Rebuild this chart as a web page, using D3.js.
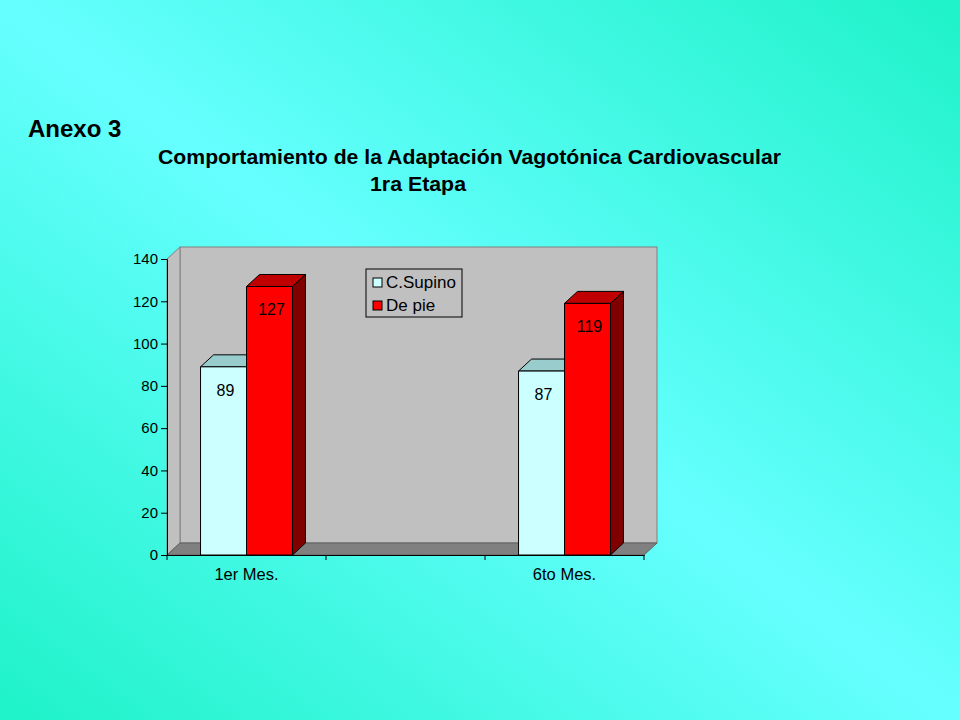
<!DOCTYPE html>
<html><head><meta charset="utf-8">
<script src="https://cdn.jsdelivr.net/npm/d3@7"></script>
<style>html,body{margin:0;padding:0;overflow:hidden}svg{display:block}text{font-family:Arial,"Liberation Sans",sans-serif}</style>
</head><body>
<script>
const categories = ["1er Mes.", "", "6to Mes."];
const seriesNames = ["C.Supino", "De pie"];
const supinoValues = [89, null, 87];
const dePieValues = [127, null, 119];
const yTicks = [0, 20, 40, 60, 80, 100, 120, 140];
const titleText = "Anexo 3";
const subtitleText = "Comportamiento de la Adaptación Vagotónica Cardiovascular";
const stageText = "1ra Etapa";

const W = 960, H = 720;
const svg = d3.select("body").append("svg").attr("width", W).attr("height", H);
const defs = svg.append("defs");
const g0 = defs.append("linearGradient").attr("id", "bg").attr("gradientUnits", "userSpaceOnUse")
  .attr("x1", 134).attr("y1", 821).attr("x2", 826).attr("y2", -101);
g0.append("stop").attr("offset", 0).attr("stop-color", "#1ef2c8");
g0.append("stop").attr("offset", 0.5).attr("stop-color", "#66ffff");
g0.append("stop").attr("offset", 1).attr("stop-color", "#1ef2c8");
svg.append("rect").attr("width", W).attr("height", H).attr("fill", "url(#bg)");

// Titles
svg.append("text").attr("x", 28).attr("y", 137).attr("font-size", 24).attr("font-weight", "bold").text(titleText);
svg.append("text").attr("x", 158).attr("y", 164).attr("font-size", 20).attr("font-weight", "bold")
  .attr("textLength", 623).attr("lengthAdjust", "spacingAndGlyphs").text(subtitleText);
svg.append("text").attr("x", 370).attr("y", 191).attr("font-size", 20).attr("font-weight", "bold")
  .attr("textLength", 96).attr("lengthAdjust", "spacingAndGlyphs").text(stageText);

// Scales
const DX = 13, DY = -12;
const x = d3.scaleBand().domain(categories).range([167, 644]).paddingInner(0).paddingOuter(0);
const xs = d3.scaleBand().domain(seriesNames).range([0, x.bandwidth()]).paddingInner(0).paddingOuter(0.73);
const y = d3.scaleLinear().domain([0, 140]).range([555, 259]);
const x0 = x.range()[0], x1 = x.range()[1];
const yTop = y(140), yBot = y(0);

// Walls
const walls = svg.append("g");
walls.append("rect").attr("x", x0 + DX).attr("y", yTop + DY).attr("width", x1 - x0).attr("height", yBot - yTop)
  .attr("fill", "#c0c0c0").attr("stroke", "#808080").attr("stroke-width", 1);
walls.append("polygon").attr("points", [[x0, yTop], [x0 + DX, yTop + DY], [x0 + DX, yBot + DY], [x0, yBot]].join(" "))
  .attr("fill", "#c0c0c0").attr("stroke", "#808080").attr("stroke-width", 1);
walls.append("polygon").attr("points", [[x0, yBot], [x0 + DX, yBot + DY], [x1 + DX, yBot + DY], [x1, yBot]].join(" "))
  .attr("fill", "#808080").attr("stroke", "#606060").attr("stroke-width", 1);

// Bars
const colors = {
  "C.Supino": { front: "#ccffff", top: "#99cccc", side: "#669999" },
  "De pie": { front: "#ff0000", top: "#c00000", side: "#800000" }
};
const valuesBySeries = { "C.Supino": supinoValues, "De pie": dePieValues };
const bars = svg.append("g");
categories.forEach((c, i) => {
  seriesNames.forEach(s => {
    const v = valuesBySeries[s][i];
    if (v == null) return;
    const bx = x(c) + xs(s), bw = xs.bandwidth(), ty = y(v), by = y(0);
    const col = colors[s];
    const gb = bars.append("g").attr("stroke", "#000").attr("stroke-width", 1).attr("stroke-linejoin", "round");
    gb.append("polygon").attr("points", [[bx + bw, ty], [bx + bw + DX, ty + DY], [bx + bw + DX, by + DY], [bx + bw, by]].join(" ")).attr("fill", col.side);
    gb.append("polygon").attr("points", [[bx, ty], [bx + DX, ty + DY], [bx + bw + DX, ty + DY], [bx + bw, ty]].join(" ")).attr("fill", col.top);
    gb.append("rect").attr("x", bx).attr("y", ty).attr("width", bw).attr("height", by - ty).attr("fill", col.front);
    bars.append("text").attr("x", bx + bw / 2 + 2).attr("y", ty + 29).attr("text-anchor", "middle")
      .attr("font-size", 16).attr("fill", "#000").text(v);
  });
});

// Y axis
const yAxis = d3.axisLeft(y).tickValues(yTicks).tickSize(6).tickPadding(3).tickFormat(d3.format("d"));
const ya = svg.append("g").attr("transform", `translate(${x0},0)`).call(yAxis);
ya.selectAll("path,line").attr("stroke", "#000");
ya.selectAll("text").attr("font-size", 15).attr("font-family", "Arial, 'Liberation Sans', sans-serif").attr("fill", "#000");

// X axis
const xAxis = d3.axisBottom(x).tickSize(0).tickPadding(13);
const xa = svg.append("g").attr("transform", `translate(0,${yBot})`).call(xAxis);
xa.select(".domain").attr("stroke", "#000");
xa.selectAll("text").attr("font-size", 16.5).attr("font-family", "Arial, 'Liberation Sans', sans-serif").attr("fill", "#000");
const bounds = categories.map(c => x(c)).concat([x1]);
xa.selectAll(".bt").data(bounds).enter().append("line").attr("class", "bt")
  .attr("x1", d => d).attr("x2", d => d).attr("y1", 0).attr("y2", 5).attr("stroke", "#000");

// Legend
const lg = svg.append("g").attr("transform", "translate(366,269)");
lg.append("rect").attr("width", 96).attr("height", 48).attr("fill", "#c0c0c0").attr("stroke", "#000");
seriesNames.forEach((s, i) => {
  lg.append("rect").attr("x", 7).attr("y", 9 + i * 23).attr("width", 9).attr("height", 9)
    .attr("fill", colors[s].front).attr("stroke", "#000");
  lg.append("text").attr("x", 20).attr("y", 19 + i * 23).attr("font-size", 17).attr("fill", "#000").text(s);
});
</script>
</body></html>
